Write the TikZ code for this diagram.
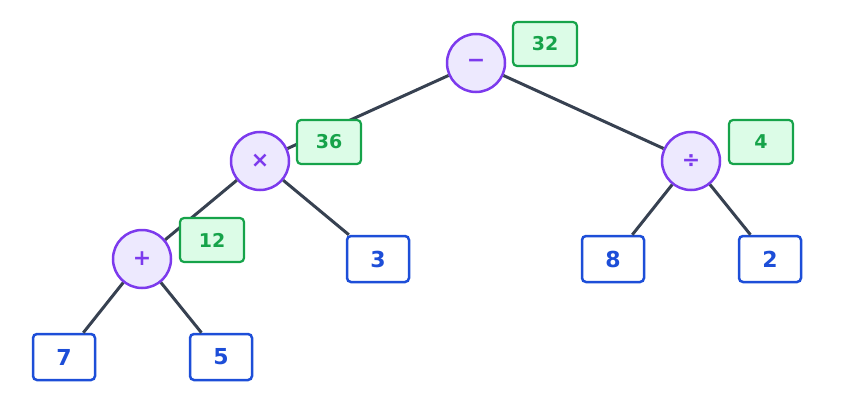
\documentclass[tikz,border=0pt]{standalone}
\usepackage{fontspec}
\setmainfont{DejaVu Sans}
\definecolor{opline}{HTML}{7C3AED}
\definecolor{opfill}{HTML}{EDE9FE}
\definecolor{leafline}{HTML}{1D4ED8}
\definecolor{valline}{HTML}{16A34A}
\definecolor{valfill}{HTML}{DCFCE7}
\definecolor{edge}{HTML}{374151}
\tikzset{
  op/.style={circle, draw=opline, fill=opfill, line width=2.5pt, minimum size=58pt, inner sep=0pt, text=opline, font=\bfseries\fontsize{22}{24}\selectfont},
  leaf/.style={rectangle, rounded corners=4pt, draw=leafline, fill=white, line width=2.5pt, minimum width=62pt, minimum height=46pt, text=leafline, font=\bfseries\fontsize{22}{24}\selectfont},
  val/.style={rectangle, rounded corners=4pt, draw=valline, fill=valfill, line width=2.2pt, minimum width=64pt, minimum height=44pt, text=valline, font=\bfseries\fontsize{19}{21}\selectfont},
  link/.style={draw=edge, line width=3pt}
}
\begin{document}
\begin{tikzpicture}[x=1pt,y=-1pt]
\useasboundingbox (0,0) rectangle (843,412);
\node[op](minus) at (476,63) {−};
\node[op](times) at (260,161) {×};
\node[op](divide) at (691,161) {÷};
\node[op](plus) at (142,259) {+};
\node[leaf](three) at (378,259) {3};
\node[leaf](eight) at (613,259) {8};
\node[leaf](two) at (770,259) {2};
\node[leaf](seven) at (64,357) {7};
\node[leaf](five) at (221,357) {5};

\draw[link] (minus) -- (times);
\draw[link] (minus) -- (divide);
\draw[link] (times) -- (plus);
\draw[link] (times) -- (three);
\draw[link] (divide) -- (eight);
\draw[link] (divide) -- (two);
\draw[link] (plus) -- (seven);
\draw[link] (plus) -- (five);

\node[val](valMinus) at (545,44) {32};
\node[val](valTimes) at (329,142) {36};
\node[val](valDivide) at (761,142) {4};
\node[val](valPlus) at (212,240) {12};
\end{tikzpicture}
\end{document}
